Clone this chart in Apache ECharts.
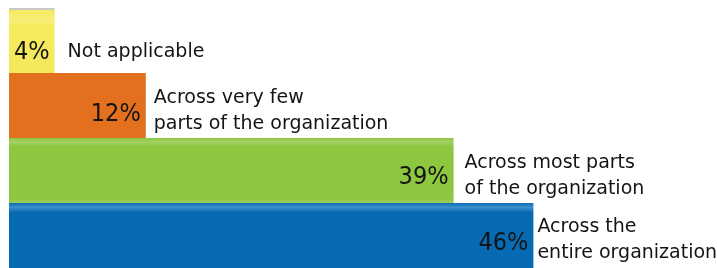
<!DOCTYPE html>
<html>
<head>
<meta charset="utf-8">
<script src="https://cdn.jsdelivr.net/npm/echarts@6/dist/echarts.min.js"></script>
<style>
html,body{margin:0;padding:0;background:#fff;}
#c{width:717px;height:268px;}
</style>
</head>
<body>
<div id="c"></div>
<script>
var categories = ['Not applicable', 'Across very few\nparts of the organization', 'Across most parts\nof the organization', 'Across the\nentire organization'];
var values = [4, 12, 39, 46];

// styling helpers (not data)
var fills = [
  {type:'linear',x:0,y:0,x2:0,y2:1,colorStops:[{offset:0,color:'#c8c8c8'},{offset:0.03,color:'#c8c8c8'},{offset:0.035,color:'#f6ea5e'},{offset:0.2,color:'#f8ee7a'},{offset:0.28,color:'#f6ea5e'},{offset:1,color:'#f5e85c'}]},
  '#e3701f',
  {type:'linear',x:0,y:0,x2:0,y2:1,colorStops:[{offset:0,color:'#8cc63f'},{offset:0.06,color:'#a4d066'},{offset:0.13,color:'#8dc63f'},{offset:0.92,color:'#8dc63f'},{offset:1,color:'#9ccd58'}]},
  {type:'linear',x:0,y:0,x2:0,y2:1,colorStops:[{offset:0,color:'#0a6db5'},{offset:0.07,color:'#3f8fcb'},{offset:0.14,color:'#076bb4'},{offset:1,color:'#066bb4'}]}
];
var pctOffsetY = [12, 9, 7, 8];
var txtDistance = [13, 8, 11, 4];
var txtOffsetY = [12, 6, 6, 5];

var chart = echarts.init(document.getElementById('c'), null, {renderer:'canvas'});
chart.setOption({
  animation:false,
  grid:{left:9,right:24,top:8,bottom:0},
  xAxis:{type:'value',min:0,max:60,show:false},
  yAxis:{type:'category',data:categories,inverse:true,show:false},
  series:[
    {
      type:'bar',
      barCategoryGap:0,
      data:values.map(function(v,i){return {value:v,itemStyle:{color:fills[i]},label:{offset:[0,pctOffsetY[i]]}};}),
      label:{
        show:true,position:'insideRight',distance:5,
        fontFamily:'"DejaVu Sans Condensed", "Liberation Sans"',fontSize:25,color:'#141414',
        formatter:function(p){return p.value+'%';}
      },
      z:2
    },
    {
      type:'bar',
      barCategoryGap:0,
      barGap:'-100%',
      data:values.map(function(v,i){return {value:v,label:{distance:txtDistance[i],offset:[0,txtOffsetY[i]]}};}),
      itemStyle:{color:'rgba(0,0,0,0)'},
      label:{
        show:true,position:'right',
        fontFamily:'DejaVu Sans',fontSize:19,lineHeight:26,color:'#141414',
        formatter:function(p){return p.name;}
      },
      z:3
    }
  ]
});
</script>
</body>
</html>
